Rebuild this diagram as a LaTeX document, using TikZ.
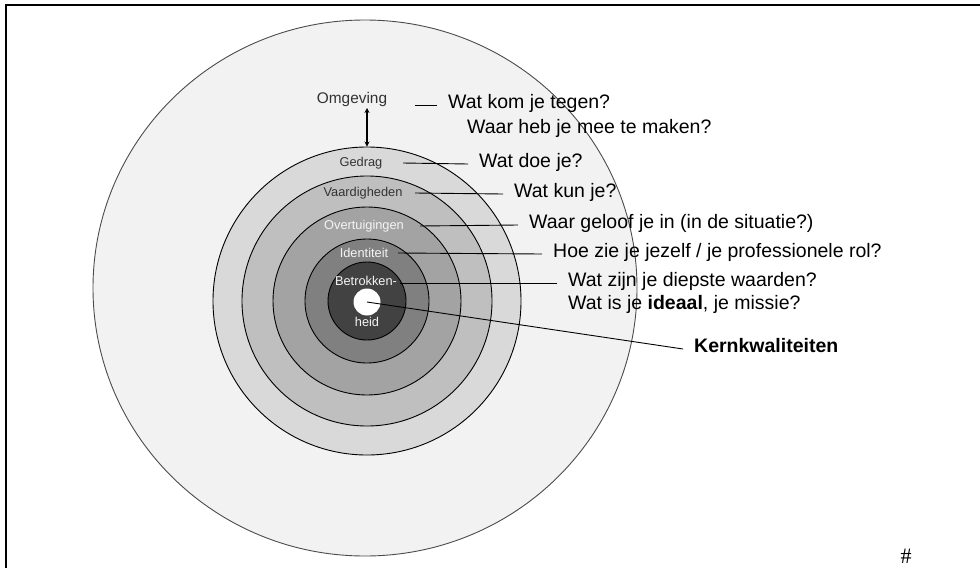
\documentclass[tikz,border=0pt]{standalone}
\usepackage{fontspec}
\setmainfont{Liberation Sans}
\newfontfamily\hashfont{Liberation Serif}
\usetikzlibrary{shapes.geometric,arrows.meta}
\definecolor{cOuter}{HTML}{F2F2F2}
\definecolor{cOne}{HTML}{D9D9D9}
\definecolor{cTwo}{HTML}{BFBFBF}
\definecolor{cThree}{HTML}{A3A3A3}
\definecolor{cFour}{HTML}{808080}
\definecolor{cFive}{HTML}{424242}
\definecolor{cDark}{HTML}{333333}
\definecolor{cLight}{HTML}{F4F4F4}
\tikzset{
  ring/.style={circle,draw=black,line width=0.9pt,inner sep=0pt},
  lab/.style={font=\fontsize{12.8}{14}\selectfont,text height=0.716em,text depth=0pt,inner sep=0pt},
  q/.style={anchor=west,font=\fontsize{19.5}{23}\selectfont,text=black,text height=0.716em,text depth=0pt,inner xsep=11pt,inner ysep=0pt},
  leader/.style={draw=black,line width=0.9pt},
}
\begin{document}
\begin{tikzpicture}[x=1pt,y=-1pt]
\useasboundingbox (0,0) rectangle (980,568);
% frame
\coordinate (fTR) at (980,5);
\coordinate (fTL) at (6,5);
\coordinate (fBL) at (6,568);
\draw[line width=1.5pt] (fTR) -- (fTL) -- (fBL);
% circles
\node[ellipse,draw=black!70,fill=cOuter,line width=0.9pt,minimum width=544pt,minimum height=536pt,inner sep=0pt] (outer) at (365,288) {};
\node[ring,fill=cOne,minimum size=308pt] (r1) at (367,301) {};
\node[ring,fill=cTwo,minimum size=250pt] (r2) at (367,301) {};
\node[ring,fill=cThree,minimum size=188pt] (r3) at (367,301) {};
\node[ring,fill=cFour,minimum size=124pt] (r4) at (367,301) {};
\node[ring,fill=cFive,minimum size=78pt] (r5) at (367,301) {};
\node[circle,fill=white,draw=none,inner sep=0pt,minimum size=27pt] (w) at (367,302) {};
% labels
\node[lab,text=cDark,font=\fontsize{15.4}{17}\selectfont] (omg) at (352,100) {Omgeving};
\node[lab,text=cDark] (ged) at (361,163) {Gedrag};
\node[lab,text=cDark] (vaa) at (363,193) {Vaardigheden};
\node[lab,text=cLight] (ove) at (364,226) {Overtuigingen};
\node[lab,text=cLight] (ide) at (364,254) {Identiteit};
\node[lab,text=cLight] (bet) at (366,282) {Betrokken-};
\node[lab,text=cLight] (hei) at (367,323) {heid};
% arrow
\coordinate (arrTop) at (367,108);
\draw[{Stealth[length=5pt,width=5pt]}-{Stealth[length=5pt,width=5pt]},line width=1.5pt] (arrTop) -- (r1.north);
% questions
\node[q] (q0) at (437,105) {Wat kom je tegen?};
\node[q] (q0b) at (456,130) {Waar heb je mee te maken?};
\node[q] (q1) at (468,164) {Wat doe je?};
\node[q] (q2) at (503,194) {Wat kun je?};
\node[q] (q3) at (518,225) {Waar geloof je in (in de situatie?)};
\node[q] (q4) at (542,254) {Hoe zie je jezelf / je professionele rol?};
\node[q] (q5) at (557,283) {Wat zijn je diepste waarden?};
\node[q] (q5b) at (557,306) {Wat is je \textbf{ideaal}, je missie?};
\node[q,font=\fontsize{19.5}{23}\selectfont\bfseries] (q6) at (683,349) {Kernkwaliteiten};
% leader starts
\coordinate (s0) at (415,105);
\coordinate (s1) at (403,163);
\coordinate (s2) at (415,193);
\coordinate (s3) at (420,226);
\coordinate (s4) at (398,253);
\coordinate (s5) at (400,283);
\draw[leader] (s0) -- (q0.west);
\draw[leader] (s1) -- (q1.west);
\draw[leader] (s2) -- (q2.west);
\draw[leader] (s3) -- (q3.west);
\draw[leader] (s4) -- (q4.west);
\draw[leader] (s5) -- (q5.west);
\draw[leader] (w.center) -- (q6.west);
% hash mark
\node[font=\hashfont\fontsize{22}{24}\selectfont,inner sep=0pt] (hash) at (906,556) {\#};
\end{tikzpicture}
\end{document}
